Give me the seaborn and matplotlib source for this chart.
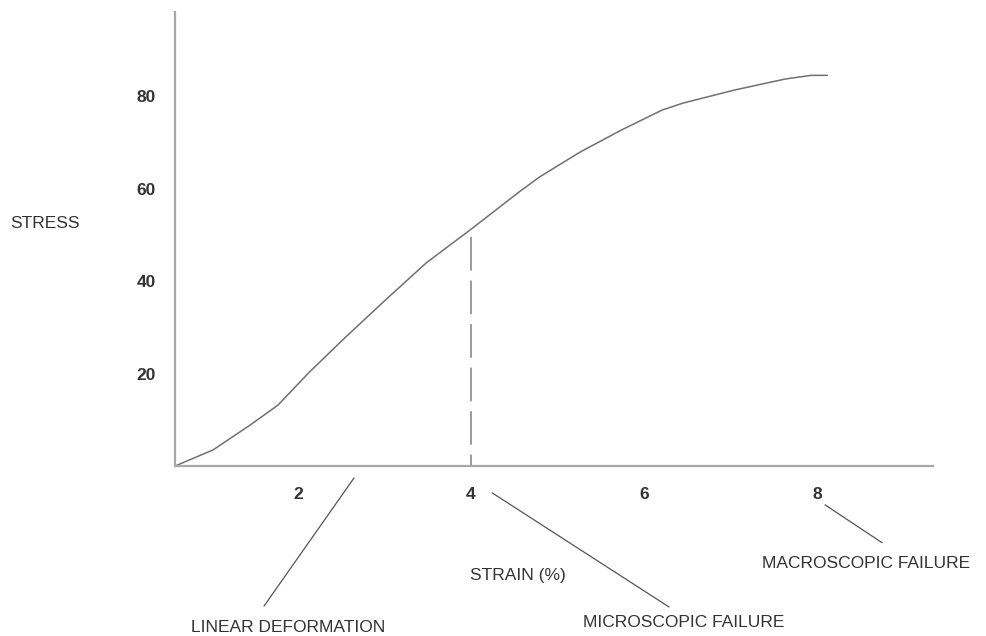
import numpy as np
import pandas as pd
import seaborn as sns
import matplotlib.pyplot as plt

# stress-strain curve
strain = [0.58, 1.02, 1.45, 1.77, 2.12, 2.54, 3.01, 3.48, 4.02, 4.55, 4.79,
          5.26, 5.73, 6.21, 6.45, 7.04, 7.63, 7.93, 8.12]
stress = [0.0, 3.5, 8.9, 13.2, 20.1, 27.7, 35.9, 43.9, 51.5, 59.2, 62.5,
          67.9, 72.6, 77.0, 78.5, 81.3, 83.7, 84.5, 84.5]

x_ticks = [2, 4, 6, 8]
y_ticks = [20, 40, 60, 80]

micro_strain = 4.0
micro_stress = 49.5

df = pd.DataFrame({"strain": strain, "stress": stress})

sns.set_theme(style="white")
plt.rcParams["font.family"] = ["Liberation Sans", "DejaVu Sans"]

text_color = "#333333"

fig = plt.figure(figsize=(9.87, 6.36), dpi=100)
ax = fig.add_axes([0.1773, 0.2673, 0.7680, 0.7138])

sns.lineplot(data=df, x="strain", y="stress", ax=ax, color="#707070", lw=1.1)

# dashed marker at onset of microscopic failure
ax.plot([micro_strain, micro_strain], [micro_stress, 0], color="#808080",
        lw=1.1, dashes=[22, 6.5])

ax.set_xlim(0.578, 9.34)
ax.set_ylim(0, 98.2)
ax.set_xticks(x_ticks)
ax.set_yticks(y_ticks)
ax.tick_params(length=0, labelsize=12.5, colors=text_color)
ax.tick_params(axis="x", pad=15)
ax.tick_params(axis="y", pad=14)
for lab in ax.get_xticklabels() + ax.get_yticklabels():
    lab.set_fontweight("bold")
ax.set_xlabel("")
ax.set_ylabel("")

for side in ["top", "right"]:
    ax.spines[side].set_visible(False)
for side in ["left", "bottom"]:
    ax.spines[side].set_color("#a8a8a8")
    ax.spines[side].set_linewidth(1.6)

# leader lines and labels below the axis
leaders = [
    ((2.647, 1.607), (-2.6, -30.3)),
    ((4.243, 6.289), (-5.8, -30.5)),
    ((8.092, 8.751), (-8.4, -16.6)),
]
for xs, ys in leaders:
    ax.plot(xs, ys, color="#555555", lw=0.9, clip_on=False)

tkw = dict(fontsize=12.5, color=text_color, ha="center", va="center")
ax.text(1.884, -35.0, "LINEAR DEFORMATION", **tkw)
ax.text(4.543, -23.6, "STRAIN (%)", **tkw)
ax.text(6.462, -33.9, "MICROSCOPIC FAILURE", **tkw)
ax.text(8.566, -21.0, "MACROSCOPIC FAILURE", **tkw)

fig.text(0.0456, 0.649, "STRESS", fontsize=12.5, color=text_color,
         ha="center", va="center")

fig.savefig("out.png", dpi=100)
